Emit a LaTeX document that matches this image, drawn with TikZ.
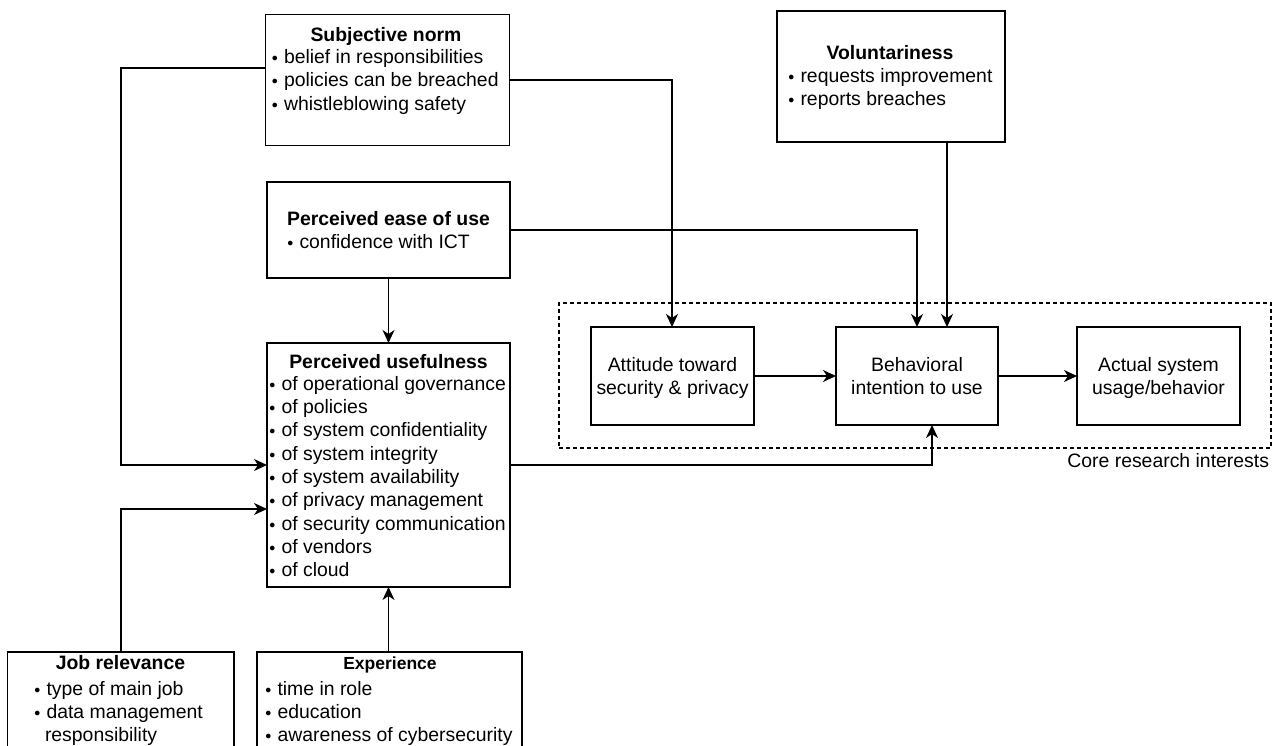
\documentclass[tikz,border=0pt]{standalone}
\usepackage{fontspec}
\setmainfont{Liberation Sans}
\usetikzlibrary{arrows.meta,calc}
\newcommand{\bul}{\makebox[11.5pt][l]{\hspace{-0.7pt}\raisebox{2pt}{\fontsize{12}{12}\selectfont$\bullet$}}}
\begin{document}
\begin{tikzpicture}[x=1pt,y=-1pt,
  box/.style={draw, line width=1.3pt, inner sep=0pt, outer sep=0pt, anchor=north west},
  txt/.style={inner sep=0pt, outer sep=0pt, font=\fontsize{19.4}{23.35}\selectfont},
  ttl/.style={txt, font=\fontsize{19.4}{23.35}\selectfont\bfseries},
  conn/.style={draw, line width=1.3pt},
  arr/.style={conn, -{Stealth[length=13pt,width=12pt,inset=4pt]}}]
\useasboundingbox (0,0) rectangle (1277,745);
\fill[white] (0,0) rectangle (1277,745);
\clip (0,0) rectangle (1277,745);

% core research area
\node[box, dash pattern=on 4pt off 3pt, minimum width=712pt, minimum height=145pt] (core) at (559,303) {};
\node[txt, anchor=base east] (corel) at (1269,467.7) {Core research interests};

% boxes
\node[box, minimum width=244pt, minimum height=131pt] (sn) at (265.5,14.5) {};
\node[box, minimum width=243pt, minimum height=96pt] (peou) at (267,182) {};
\node[box, minimum width=243pt, minimum height=244pt] (pu) at (267,343) {};
\node[box, minimum width=226.5pt, minimum height=130pt] (jr) at (7.5,652) {};
\node[box, minimum width=265pt, minimum height=130pt] (exp) at (257,652) {};
\node[box, minimum width=228pt, minimum height=131pt] (vol) at (777,11) {};
\node[box, minimum width=163pt, minimum height=98pt] (att) at (591,327) {};
\node[box, minimum width=162pt, minimum height=98pt] (beh) at (836,327) {};
\node[box, minimum width=163pt, minimum height=98pt] (act) at (1077,327) {};

% texts
\node[ttl, anchor=base] (snt) at (386,41) {Subjective norm};
\node[txt, anchor=base west] (snb) at (272.5,63.3) {\begin{tabular}[t]{@{}l@{}}\bul belief in responsibilities\\ \bul policies can be breached\\ \bul whistleblowing safety\end{tabular}};

\node[ttl, anchor=base] (peout) at (388.5,225) {Perceived ease of use};
\node[txt, anchor=base west] (peoub) at (288,248.3) {\bul confidence with ICT};

\node[ttl, anchor=base] (put) at (388.5,368.3) {Perceived usefulness};
\node[txt, anchor=base west] (pub) at (270,390) {\begin{tabular}[t]{@{}l@{}}\bul of operational governance\\ \bul of policies\\ \bul of system confidentiality\\ \bul of system integrity\\ \bul of system availability\\ \bul of privacy management\\ \bul of security communication\\ \bul of vendors\\ \bul of cloud\end{tabular}};

\node[ttl, anchor=base] (jrt) at (120.5,669.5) {Job relevance};
\node[txt, anchor=base west] (jrb) at (35,695) {\begin{tabular}[t]{@{}l@{}}\bul type of main job\\ \bul data management\\ \hspace{10pt}responsibility\end{tabular}};

\node[ttl, anchor=base, font=\fontsize{17.5}{23.35}\selectfont\bfseries] (expt) at (390,669.5) {Experience};
\node[txt, anchor=base west] (expb) at (266,695) {\begin{tabular}[t]{@{}l@{}}\bul time in role\\ \bul education\\ \bul awareness of cybersecurity\end{tabular}};

\node[ttl, anchor=base] (volt) at (890,59.3) {Voluntariness};
\node[txt, anchor=base west] (volb) at (789,82) {\begin{tabular}[t]{@{}l@{}}\bul requests improvement\\ \bul reports breaches\end{tabular}};

\node[txt, anchor=base] (attt) at (672.5,371) {\begin{tabular}[t]{@{}c@{}}Attitude toward\\ security \& privacy\end{tabular}};
\node[txt, anchor=base] (beht) at (917,371) {\begin{tabular}[t]{@{}c@{}}Behavioral\\ intention to use\end{tabular}};
\node[txt, anchor=base] (actt) at (1158.5,371) {\begin{tabular}[t]{@{}c@{}}Actual system\\ usage/behavior\end{tabular}};

% bend coordinates
\coordinate (c1) at (121,68);
\coordinate (c2) at (121,465);
\coordinate (c3) at (672,80);
\coordinate (c4) at (917,230);
\coordinate (c5) at (947,142);
\coordinate (c6) at (932,465);
\coordinate (c7) at (121,509);

% connectors
\draw[arr] (sn.west |- c1) -- (c1) -- (c2) -- (pu.west |- c2);
\draw[arr] (sn.east |- c3) -- (c3) -- (att.north -| c3);
\draw[arr] (peou.east |- c4) -- (c4) -- (beh.north -| c4);
\draw[arr] (vol.south -| c5) -- (beh.north -| c5);
\draw[arr] (peou.south) -- (pu.north);
\draw[arr] (pu.east |- c6) -- (c6) -- (beh.south -| c6);
\draw[arr] (jr.north -| c7) -- (c7) -- (pu.west |- c7);
\draw[arr] (exp.north -| pu.south) -- (pu.south);
\draw[arr] (att.east) -- (beh.west);
\draw[arr] (beh.east) -- (act.west);
\end{tikzpicture}
\end{document}
